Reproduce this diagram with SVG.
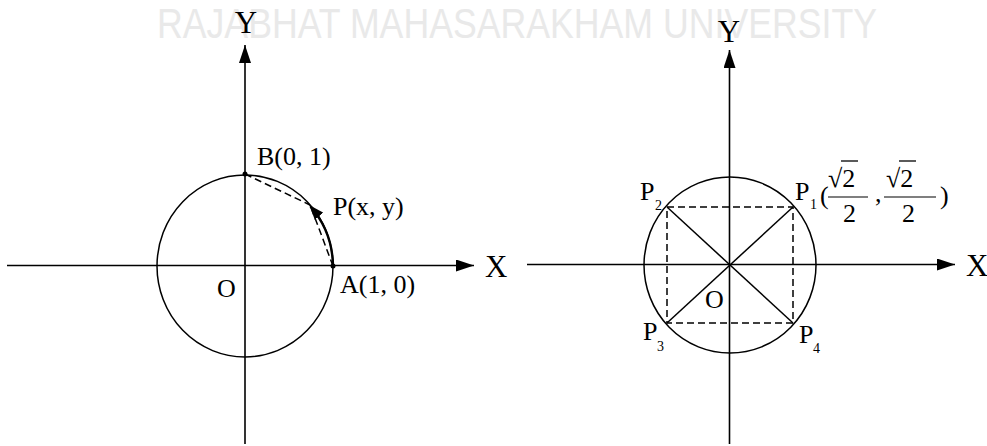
<svg xmlns="http://www.w3.org/2000/svg" width="987" height="446" viewBox="0 0 987 446">
<style>
.ax{stroke:#000;stroke-width:1.6;fill:none}
.crc{stroke:#000;stroke-width:1.5;fill:none}
.dash{stroke:#000;stroke-width:1.5;fill:none;stroke-dasharray:7 4}
.sol{stroke:#000;stroke-width:1.5;fill:none}
.lbl{font-family:"Liberation Serif","Times New Roman",serif;font-size:26px;fill:#000}
.axl{font-family:"Liberation Serif","Times New Roman",serif;font-size:31px;fill:#000}
.sub{font-family:"Liberation Serif","Times New Roman",serif;font-size:14px;fill:#000}
.wm{font-family:"Liberation Sans",Arial,sans-serif;font-size:43px;fill:#e9e9e9}
</style>
<defs>
<marker id="arr" markerUnits="userSpaceOnUse" markerWidth="18" markerHeight="12" refX="18" refY="6" orient="auto">
<path d="M0,0 L18,6 L0,12 z" fill="#000"/>
</marker>
<marker id="arr2" markerUnits="userSpaceOnUse" markerWidth="15" markerHeight="11" refX="13" refY="5.5" orient="auto">
<path d="M0,0 L15,5.5 L0,11 z" fill="#000"/>
</marker>
</defs>
<rect width="987" height="446" fill="#fff"/>
<text class="wm" x="157" y="38" textLength="720" lengthAdjust="spacingAndGlyphs">RAJABHAT MAHASARAKHAM UNIVERSITY</text>

<g id="connectors">
<line class="ax" x1="7" y1="265.5" x2="474" y2="265.5" marker-end="url(#arr)"/>
<line class="ax" x1="245" y1="444" x2="245" y2="45" marker-end="url(#arr)"/>
<line class="ax" x1="527" y1="264.5" x2="955" y2="264.5" marker-end="url(#arr)"/>
<line class="ax" x1="729.5" y1="444" x2="729.5" y2="50" marker-end="url(#arr)"/>
<line class="dash" x1="245" y1="174" x2="310" y2="205"/>
<line class="dash" x1="333" y1="266" x2="312" y2="210"/>
<path d="M333,266 A88,91 0 0 0 310.5,206.5" stroke="#000" stroke-width="2.4" fill="none" marker-end="url(#arr2)"/>
<rect class="dash" x="667" y="207" width="126" height="116"/>
<line class="sol" x1="667" y1="207" x2="793" y2="323"/>
<line class="sol" x1="793" y1="207" x2="667" y2="323"/>
</g>

<g id="left-circle">
<ellipse class="crc" cx="245" cy="266" rx="88" ry="91"/>
<circle cx="245" cy="174" r="2.5" fill="#000"/>
<circle cx="333" cy="266" r="2.5" fill="#000"/>
</g>
<g id="left-labels">
<text class="axl" x="246" y="33" text-anchor="middle">Y</text>
<text class="axl" x="485" y="277">X</text>
<text class="lbl" x="257" y="165">B(0, 1)</text>
<text class="lbl" x="333" y="215">P(x, y)</text>
<text class="lbl" x="340" y="293">A(1, 0)</text>
<text class="lbl" x="217" y="297">O</text>
</g>

<g id="right-circle">
<ellipse class="crc" cx="730" cy="265" rx="86" ry="88"/>
</g>
<g id="right-labels">
<text class="axl" x="729" y="42" text-anchor="middle">Y</text>
<text class="axl" x="966" y="276">X</text>
<text class="lbl" x="705" y="308">O</text>
<g id="P2"><text class="lbl" x="640" y="200">P</text><text class="sub" x="655" y="210">2</text></g>
<g id="P3"><text class="lbl" x="643" y="340">P</text><text class="sub" x="657" y="351">3</text></g>
<g id="P4"><text class="lbl" x="799" y="343">P</text><text class="sub" x="813" y="353">4</text></g>
<g id="P1">
<text class="lbl" x="795" y="200">P</text><text class="sub" x="810" y="209">1</text>
<text class="lbl" x="820" y="204">(</text>
<text class="lbl" x="828" y="187">√2</text>
<line x1="841" y1="161" x2="858" y2="161" stroke="#000" stroke-width="1.3"/>
<line x1="828" y1="197" x2="868" y2="197" stroke="#000" stroke-width="1.2"/>
<text class="lbl" x="843" y="222">2</text>
<text class="lbl" x="875" y="202">,</text>
<text class="lbl" x="886" y="187">√2</text>
<line x1="899" y1="161" x2="916" y2="161" stroke="#000" stroke-width="1.3"/>
<line x1="884" y1="197" x2="936" y2="197" stroke="#000" stroke-width="1.2"/>
<text class="lbl" x="902" y="222">2</text>
<text class="lbl" x="940" y="204">)</text>
</g>
</g>
</svg>
